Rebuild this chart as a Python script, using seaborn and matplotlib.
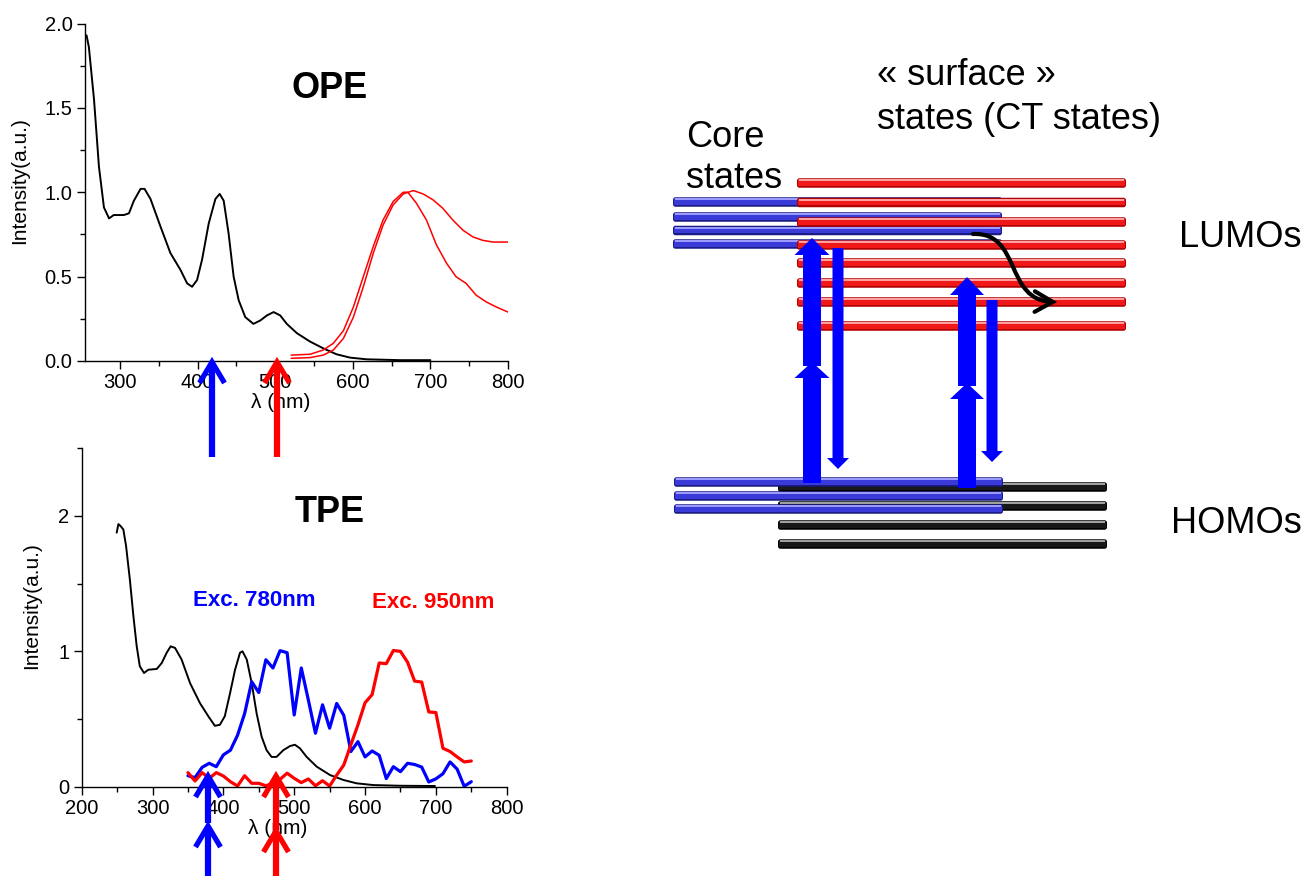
import matplotlib
matplotlib.use("Agg")
import matplotlib.pyplot as plt
import seaborn as sns
import pandas as pd
from matplotlib.patches import FancyBboxPatch, Rectangle, Polygon, FancyArrowPatch
from matplotlib.path import Path
from matplotlib.ticker import MultipleLocator

# ---------------- data ----------------
# OPE: absorption (black) and two emission spectra (red)
ope_abs_wl = [257, 260, 266.6, 273, 279.4, 286, 292, 305, 311.6, 318, 326.6, 331.7, 339.4, 352, 365,
              378, 386.6, 393, 399.4, 405.8, 414.4, 423, 428.5, 433.7, 440, 446.5, 453, 461.5, 472,
              480.8, 489.4, 498, 506.5, 515, 528, 545, 562, 579, 596.5, 618, 661, 700]
ope_abs_int = [1.93, 1.86, 1.55, 1.15, 0.91, 0.845, 0.865, 0.865, 0.875, 0.95, 1.02, 1.02, 0.96, 0.80,
               0.64, 0.54, 0.46, 0.44, 0.48, 0.60, 0.815, 0.96, 0.99, 0.95, 0.756, 0.50, 0.36, 0.26,
               0.22, 0.24, 0.27, 0.29, 0.27, 0.22, 0.165, 0.115, 0.075, 0.04, 0.02, 0.01, 0.005, 0.005]
ope_emA_wl = [520.6, 545, 562, 575, 588, 600.8, 613.6, 626.5, 639, 652, 665, 671, 682, 695, 707.6,
              720.7, 733, 746, 759, 772, 785, 800]
ope_emA_int = [0.035, 0.04, 0.065, 0.105, 0.18, 0.32, 0.50, 0.68, 0.835, 0.945, 1.0, 1.0, 0.935, 0.835,
               0.69, 0.58, 0.50, 0.46, 0.39, 0.35, 0.32, 0.29]
ope_emB_wl = [520.6, 545, 562, 575, 588, 600.8, 613.6, 626.5, 639, 652, 665, 678, 690.6, 703.4, 716,
              729, 742, 755, 767.5, 780.5, 800]
ope_emB_int = [0.016, 0.02, 0.035, 0.065, 0.134, 0.26, 0.44, 0.64, 0.805, 0.925, 0.99, 1.01, 0.99,
               0.955, 0.905, 0.835, 0.775, 0.735, 0.715, 0.705, 0.705]

# TPE: absorption (black) and emission under 780 nm (blue) and 950 nm (red) excitation
tpe_abs_wl = [249.4, 251.8, 255, 258.8, 262.6, 268, 273, 277.6, 282, 288, 294, 306, 313, 320, 325.6,
              331.8, 341, 353, 367, 378.8, 388, 395, 402, 409.4, 416.5, 423.5, 427, 433, 440, 447,
              454, 461, 468, 475, 484.7, 494, 501, 508, 517.6, 531.8, 550.6, 569.4, 588, 611.8, 649,
              698.8]
tpe_abs_int = [1.877, 1.94, 1.925, 1.90, 1.78, 1.53, 1.26, 1.04, 0.89, 0.84, 0.864, 0.87, 0.914, 0.99,
               1.037, 1.025, 0.94, 0.765, 0.617, 0.52, 0.45, 0.457, 0.52, 0.69, 0.864, 0.99, 1.0,
               0.94, 0.765, 0.54, 0.37, 0.27, 0.22, 0.22, 0.27, 0.30, 0.31, 0.284, 0.22, 0.148,
               0.086, 0.05, 0.025, 0.012, 0.007, 0.005]
tpe_em_wl = list(range(350, 751, 10))
tpe_em780 = [0.081, 0.067, 0.143, 0.173, 0.148, 0.235, 0.27, 0.38, 0.54, 0.775, 0.696, 0.938, 0.877,
             1.005, 0.99, 0.53, 0.877, 0.64, 0.395, 0.605, 0.432, 0.615, 0.527, 0.26, 0.333, 0.22,
             0.264, 0.232, 0.06, 0.148, 0.111, 0.173, 0.164, 0.145, 0.035, 0.058, 0.096, 0.183,
             0.13, 0.003, 0.037]
tpe_em950 = [0.104, 0.042, 0.104, 0.062, 0.104, 0.079, 0.037, 0.005, 0.081, 0.025, 0.025, 0.007,
             0.025, 0.054, 0.1, 0.062, 0.03, 0.057, 0.007, 0.044, 0.005, 0.086, 0.16, 0.31, 0.457,
             0.62, 0.68, 0.914, 0.909, 1.006, 1.0, 0.92, 0.78, 0.773, 0.552, 0.548, 0.284, 0.26,
             0.22, 0.183, 0.19]

ope_xticks = [300, 400, 500, 600, 700, 800]
ope_yticks = [0.0, 0.5, 1.0, 1.5, 2.0]
tpe_xticks = [200, 300, 400, 500, 600, 700, 800]
tpe_yticks = [0, 1, 2]

# energy-level diagram (schematic levels)
surface_lumo_levels = [183, 202.5, 222, 245, 263, 283, 302, 326]
core_lumo_levels = [202, 217, 230.5, 244]
core_homo_levels = [482, 496, 509]
surface_homo_levels = [487, 506, 525, 544]

# ---------------- style ----------------
sns.set_style("ticks", {"axes.edgecolor": "black", "xtick.color": "black", "ytick.color": "black",
                        "text.color": "black", "axes.labelcolor": "black"})
plt.rcParams["font.family"] = ["Liberation Sans", "DejaVu Sans"]

W, H = 1311, 876
fig = plt.figure(figsize=(W / 100, H / 100), dpi=100)


def px_axes(x0, y0, x1, y1):
    return fig.add_axes([x0 / W, 1 - y1 / H, (x1 - x0) / W, (y1 - y0) / H])


def style_axes(ax):
    sns.despine(ax=ax)
    for s in ("left", "bottom"):
        ax.spines[s].set_linewidth(1.0)
    ax.tick_params(which="major", direction="out", length=6, width=1, labelsize=14.5, pad=3)
    ax.tick_params(which="minor", direction="out", length=3.5, width=1)


# ---- OPE panel ----
ax1 = px_axes(85, 23.5, 508, 361)
sns.lineplot(x=ope_abs_wl, y=ope_abs_int, ax=ax1, color="black", lw=1.4, sort=False, estimator=None)
sns.lineplot(x=ope_emA_wl, y=ope_emA_int, ax=ax1, color="#ff0000", lw=1.1, sort=False, estimator=None)
sns.lineplot(x=ope_emB_wl, y=ope_emB_int, ax=ax1, color="#ff0000", lw=1.1, sort=False, estimator=None)
ax1.set_xlim(255, 800)
ax1.set_ylim(0, 2.0)
ax1.set_xticks(ope_xticks)
ax1.set_yticks(ope_yticks)
ax1.set_yticklabels([f"{v:.1f}" for v in ope_yticks])
ax1.xaxis.set_minor_locator(MultipleLocator(50))
ax1.yaxis.set_minor_locator(MultipleLocator(0.25))
style_axes(ax1)
ax1.set_xlabel("λ (nm)", fontsize=15, va="center")
ax1.xaxis.set_label_coords((281 - 85) / 423, (361 - 403) / 337.5)
ax1.set_ylabel("Intensity(a.u.)", fontsize=15, va="center")
ax1.yaxis.set_label_coords((20 - 85) / 423, (361 - 181) / 337.5)

# ---- TPE panel ----
ax2 = px_axes(81.7, 448.3, 506.7, 786.7)
sns.lineplot(x=tpe_abs_wl, y=tpe_abs_int, ax=ax2, color="black", lw=1.4, sort=False, estimator=None)
sns.lineplot(x=tpe_em_wl, y=tpe_em780, ax=ax2, color="#0000ff", lw=2.3, sort=False, estimator=None)
sns.lineplot(x=tpe_em_wl, y=tpe_em950, ax=ax2, color="#ff0000", lw=2.3, sort=False, estimator=None)
ax2.set_xlim(200, 800)
ax2.set_ylim(0, 2.5)
ax2.set_xticks(tpe_xticks)
ax2.set_yticks(tpe_yticks)
ax2.xaxis.set_minor_locator(MultipleLocator(50))
ax2.yaxis.set_minor_locator(MultipleLocator(0.5))
style_axes(ax2)
ax2.set_xlabel("λ (nm)", fontsize=15, va="center")
ax2.xaxis.set_label_coords((278 - 81.7) / 425, (786.7 - 828) / 338.4)
ax2.set_ylabel("Intensity(a.u.)", fontsize=15, va="center")
ax2.yaxis.set_label_coords((32 - 81.7) / 425, (786.7 - 605.5) / 338.4)

# ---- overlay in pixel coordinates ----
ov = fig.add_axes([0, 0, 1, 1], zorder=10)
ov.set_xlim(0, W)
ov.set_ylim(H, 0)
ov.axis("off")
ov.patch.set_alpha(0)

ov.text(330, 88, "OPE", ha="center", va="center", fontsize=26, fontweight="bold")
ov.text(330, 512, "TPE", ha="center", va="center", fontsize=26, fontweight="bold")
ov.text(254, 601, "Exc. 780nm", ha="center", va="center", fontsize=16, fontweight="bold", color="#0000ff")
ov.text(433, 603, "Exc. 950nm", ha="center", va="center", fontsize=16, fontweight="bold", color="#ff0000")


def line_arrow(xc, ybottom, ytip, color, hw=12.5, hl=21):
    ov.plot([xc, xc], [ybottom, ytip + 3], color=color, lw=4.5, solid_capstyle="butt")
    ov.plot([xc - hw, xc, xc + hw], [ytip + hl, ytip, ytip + hl], color=color, lw=3.8,
            solid_joinstyle="miter", solid_capstyle="butt")


line_arrow(212, 457, 362, "#0000ff")
line_arrow(277, 457, 362, "#ff0000")
line_arrow(208, 823, 776, "#0000ff")
line_arrow(208, 880, 826, "#0000ff")
line_arrow(276, 830, 776, "#ff0000")
line_arrow(276, 880, 831, "#ff0000")


def level_bar(x0, x1, yc, dark, mid, light, h=9.5):
    ov.add_patch(FancyBboxPatch((x0, yc - h / 2), x1 - x0, h,
                                boxstyle="round,pad=0,rounding_size=2.5", fc=dark, ec="none"))
    ov.add_patch(Rectangle((x0 + 1, yc - h / 2 + 1.0), x1 - x0 - 2, h - 3.0, fc=mid, ec="none"))
    ov.add_patch(Rectangle((x0 + 2, yc - h / 2 + 1.0), x1 - x0 - 4, 1.8, fc=light, ec="none"))


BLUE = ("#1a1a85", "#3a3ad8", "#9a9aff")
RED = ("#b00000", "#f01818", "#ffa0a0")
BLACK = ("#000000", "#181818", "#a0a0a0")

for y in core_lumo_levels:
    level_bar(673, 1002, y, *BLUE)
for y in surface_lumo_levels:
    level_bar(797, 1126, y, *RED)
for y in surface_homo_levels:
    level_bar(778, 1107, y, *BLACK)
for y in core_homo_levels:
    level_bar(674, 1003, y, *BLUE)


def block_arrow(xc, ystart, ytip, sw, hw, hl, color="#0000ff"):
    d = 1 if ytip < ystart else -1
    yb = ytip + d * hl
    verts = [(xc - sw / 2, ystart), (xc - sw / 2, yb), (xc - hw / 2, yb), (xc, ytip),
             (xc + hw / 2, yb), (xc + sw / 2, yb), (xc + sw / 2, ystart)]
    ov.add_patch(Polygon(verts, closed=True, fc=color, ec="none"))


block_arrow(812, 366, 238, 18, 35, 17)
block_arrow(812, 483, 362, 18, 35, 16)
block_arrow(967, 386, 277, 18, 34, 18)
block_arrow(967, 488, 383, 18, 34, 16)
block_arrow(838, 248, 469, 11, 22, 11)
block_arrow(992, 300, 462, 11, 22, 11)

curve = Path([(973, 234), (1022, 232), (1004, 301), (1057, 302)],
             [Path.MOVETO, Path.CURVE4, Path.CURVE4, Path.CURVE4])
ov.add_patch(FancyArrowPatch(path=curve, arrowstyle="->,head_length=0.65,head_width=0.37",
                             mutation_scale=20, lw=3, color="black", joinstyle="miter"))

ov.text(877, 85, "« surface »", ha="left", va="baseline", fontsize=26)
ov.text(877, 129, "states (CT states)", ha="left", va="baseline", fontsize=26)
ov.text(686, 147, "Core", ha="left", va="baseline", fontsize=26)
ov.text(686, 188, "states", ha="left", va="baseline", fontsize=26)
ov.text(1179, 247, "LUMOs", ha="left", va="baseline", fontsize=26)
ov.text(1171, 533, "HOMOs", ha="left", va="baseline", fontsize=26)

fig.savefig("out.png", dpi=100)
